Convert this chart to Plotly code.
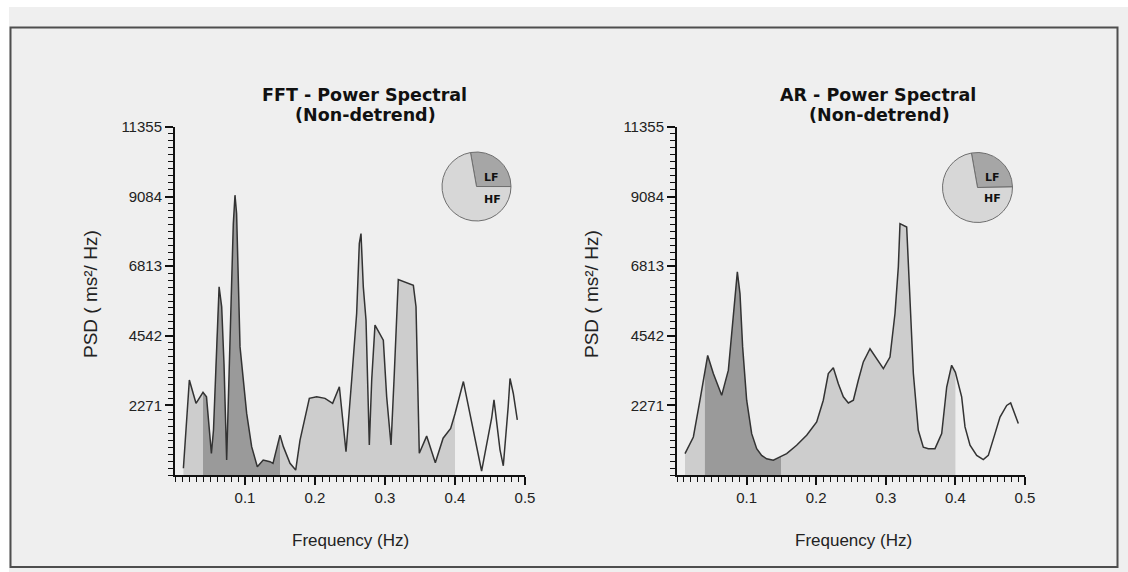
import plotly.graph_objects as go

W, H = 1128, 572

# Spectral band boundaries (Hz): VLF | LF | HF
BAND_EDGES = [0.04, 0.15, 0.40]
BAND_COLORS = ["#cdcdcd", "#9a9a9a", "#cdcdcd"]

X_TICKS = [0.1, 0.2, 0.3, 0.4, 0.5]
X_TICK_TEXT = ["0.1", "0.2", "0.3", "0.4", "0.5"]
Y_TICKS = [2271, 4542, 6813, 9084, 11355]
Y_TICK_TEXT = ["2271", "4542", "6813", "9084", "11355"]
Y_MAX = 11355

# FFT power spectral density (ms²/Hz)
FFT_FREQ = [0.012, 0.0205, 0.030, 0.040, 0.045, 0.052, 0.055, 0.0595, 0.063, 0.0667,
            0.070, 0.0738, 0.0767, 0.0805, 0.0833, 0.0857, 0.088, 0.0929, 0.1024, 0.1095,
            0.1176, 0.126, 0.1357, 0.140, 0.150, 0.1548, 0.1643, 0.1724, 0.1786, 0.1919,
            0.2024, 0.2143, 0.2252, 0.2348, 0.2395, 0.2443, 0.2524, 0.2595, 0.2633, 0.2657,
            0.269, 0.2729, 0.2776, 0.281, 0.2857, 0.2929, 0.2976, 0.3024, 0.3086, 0.3133,
            0.3176, 0.319, 0.3405, 0.3443, 0.349, 0.3595, 0.3719, 0.383, 0.3938, 0.400,
            0.412, 0.438, 0.4524, 0.4557, 0.4643, 0.469, 0.476, 0.4786, 0.4833, 0.489]
FFT_PSD = [220, 3100, 2340, 2700, 2550, 700, 1470, 4400, 6140, 5490,
           3630, 490, 3090, 6470, 8200, 9130, 8530, 4180, 2010, 925,
           270, 490, 435, 380, 1300, 925, 380, 160, 1140, 2500,
           2550, 2500, 2340, 2880, 1900, 760, 3100, 5270, 7550, 7880,
           6140, 5050, 980, 3100, 4890, 4620, 4400, 2550, 980, 3310,
           6140, 6380, 6190, 5490, 710, 1270, 400, 1200, 1520, 2000,
           3050, 130, 1860, 2450, 820, 300, 2230, 3150, 2660, 1800]

# Autoregressive power spectral density (ms²/Hz)
AR_FREQ = [0.0115, 0.0235, 0.033, 0.040, 0.0441, 0.0522, 0.0642, 0.0738, 0.0809, 0.0867,
           0.0905, 0.0943, 0.1001, 0.1073, 0.1145, 0.1216, 0.1288, 0.1384, 0.148, 0.150,
           0.1576, 0.1719, 0.1863, 0.2007, 0.2102, 0.2174, 0.2246, 0.2318, 0.239, 0.2462,
           0.2534, 0.2605, 0.2677, 0.2773, 0.2869, 0.2965, 0.306, 0.3132, 0.318, 0.3204,
           0.330, 0.3338, 0.3396, 0.3467, 0.3539, 0.3611, 0.3707, 0.3803, 0.3875, 0.3946,
           0.400, 0.409, 0.4138, 0.421, 0.4306, 0.4401, 0.4473, 0.4569, 0.4641, 0.4737,
           0.4794, 0.4904]
AR_PSD = [700, 1240, 2440, 3350, 3900, 3310, 2600, 3420, 5270, 6630,
          5920, 4180, 2440, 1350, 860, 640, 530, 480, 590, 610,
          700, 970, 1300, 1730, 2440, 3310, 3500, 2980, 2550, 2350,
          2440, 3090, 3690, 4120, 3800, 3470, 3850, 5270, 6790, 8200,
          8090, 6350, 3310, 1460, 910, 860, 860, 1350, 2870, 3580,
          3350, 2550, 1570, 970, 640, 500, 640, 1350, 1890, 2270,
          2350, 1680]

# LF / HF share of spectral power (%)
PIE_LABELS = ["LF", "HF"]
FFT_PIE = [27.8, 72.2]
AR_PIE = [27.5, 72.5]
PIE_COLORS = ["#a6a6a6", "#d7d7d7"]

TITLE_FONT = "DejaVu Sans"
TEXT_FONT = "Liberation Sans, Arial, sans-serif"


def px(x):
    """pixel x -> paper fraction"""
    return x / W


def py(y):
    """pixel y (downward) -> paper fraction"""
    return (H - y) / H


def label(x, y, text, size, family, color="#1a1a1a", angle=0):
    return dict(x=px(x), y=py(y), xref="paper", yref="paper", text=text,
                showarrow=False, xanchor="center", yanchor="middle",
                textangle=angle, font=dict(family=family, size=size, color=color))


panels = [
    dict(xa="x", ya="y", freq=FFT_FREQ, psd=FFT_PSD, pie=FFT_PIE,
         xdom=[px(175), px(525)], title="FFT - Power Spectral", tcx=364,
         pie_c=(476.5, 186.5), pie_r=34.5, lf=(491.5, 177), hf=(492.5, 199),
         ytitle_x=90, xtitle_x=350),
    dict(xa="x2", ya="y2", freq=AR_FREQ, psd=AR_PSD, pie=AR_PIE,
         xdom=[px(677), px(1025)], title="AR - Power Spectral", tcx=878,
         pie_c=(977.5, 187.5), pie_r=35, lf=(992, 178), hf=(992.5, 198),
         ytitle_x=591, xtitle_x=853),
]

fig = go.Figure()
annotations = []

for p in panels:
    freq, psd = p["freq"], p["psd"]
    # shaded frequency bands under the curve
    lo = freq[0]
    for edge, color in zip(BAND_EDGES, BAND_COLORS):
        bx = [f for f in freq if lo <= f <= edge]
        by = [v for f, v in zip(freq, psd) if lo <= f <= edge]
        fig.add_trace(go.Scatter(x=bx, y=by, mode="lines", fill="tozeroy",
                                 fillcolor=color, line=dict(width=0),
                                 hoverinfo="skip", showlegend=False,
                                 xaxis=p["xa"], yaxis=p["ya"]))
        lo = edge
    # spectrum outline
    fig.add_trace(go.Scatter(x=freq, y=psd, mode="lines",
                             line=dict(color="#333333", width=1.5),
                             showlegend=False, xaxis=p["xa"], yaxis=p["ya"]))

    # LF/HF ratio pie
    cx, cy = p["pie_c"]
    r = p["pie_r"]
    fig.add_trace(go.Pie(values=p["pie"], labels=PIE_LABELS, sort=False,
                         direction="clockwise", rotation=-10, textinfo="none",
                         marker=dict(colors=PIE_COLORS,
                                     line=dict(color="#6e6e6e", width=1)),
                         domain=dict(x=[px(cx - r), px(cx + r)],
                                     y=[py(cy + r), py(cy - r)]),
                         showlegend=False))
    for lab, (lx, ly) in zip(PIE_LABELS, [p["lf"], p["hf"]]):
        annotations.append(label(lx, ly, f"<b>{lab}</b>", 11, TITLE_FONT, "#111"))

    # panel titles
    annotations.append(label(p["tcx"], 95, f"<b>{p['title']}</b>", 17.5, TITLE_FONT, "#111"))
    annotations.append(label(p["tcx"] + 1, 115, "<b>(Non-detrend)</b>", 17.5, TITLE_FONT, "#111"))
    # axis titles
    annotations.append(label(p["ytitle_x"], 294, "PSD ( ms²/ Hz)", 19, TEXT_FONT, "#222", -90))
    annotations.append(label(p["xtitle_x"], 540, "Frequency (Hz)", 17, TEXT_FONT, "#222"))

axis_common = dict(showline=True, linecolor="#111", linewidth=2, showgrid=False,
                   zeroline=False, ticks="outside", ticklen=8, tickwidth=1.5,
                   tickcolor="#111", automargin=False,
                   tickfont=dict(family=TEXT_FONT, size=15, color="#222"))

xaxis_cfg = dict(range=[0, 0.5], tickmode="array", tickvals=X_TICKS, ticktext=X_TICK_TEXT,
                 minor=dict(tickmode="linear", tick0=0, dtick=0.01, ticks="outside",
                            ticklen=5, tickwidth=1.2, tickcolor="#111", showgrid=False),
                 **axis_common)
yaxis_cfg = dict(range=[0, Y_MAX], tickmode="array", tickvals=Y_TICKS, ticktext=Y_TICK_TEXT,
                 minor=dict(tickmode="linear", tick0=0, dtick=Y_MAX / 50, ticks="outside",
                            ticklen=5, tickwidth=1.2, tickcolor="#111", showgrid=False),
                 **axis_common)

ydom = [py(475), py(127)]

fig.update_layout(
    width=W, height=H,
    margin=dict(l=0, r=0, t=0, b=0, pad=0, autoexpand=False),
    paper_bgcolor="#efefef",
    plot_bgcolor="rgba(0,0,0,0)",
    showlegend=False,
    xaxis=dict(domain=panels[0]["xdom"], anchor="y", **xaxis_cfg),
    yaxis=dict(domain=ydom, anchor="x", **yaxis_cfg),
    xaxis2=dict(domain=panels[1]["xdom"], anchor="y2", **xaxis_cfg),
    yaxis2=dict(domain=ydom, anchor="x2", **yaxis_cfg),
    annotations=annotations,
    shapes=[
        dict(type="rect", xref="paper", yref="paper", x0=0, x1=1, y0=py(7), y1=1,
             fillcolor="#ffffff", line=dict(width=0), layer="below"),
        dict(type="rect", xref="paper", yref="paper", x0=0, x1=px(9), y0=0, y1=1,
             fillcolor="#ffffff", line=dict(width=0), layer="below"),
        dict(type="rect", xref="paper", yref="paper", x0=px(10.5), x1=px(1117.5),
             y0=py(567), y1=py(27.5), line=dict(color="#4e4e4e", width=2),
             fillcolor="rgba(0,0,0,0)", layer="below"),
    ],
)

fig.write_html("out.html")
